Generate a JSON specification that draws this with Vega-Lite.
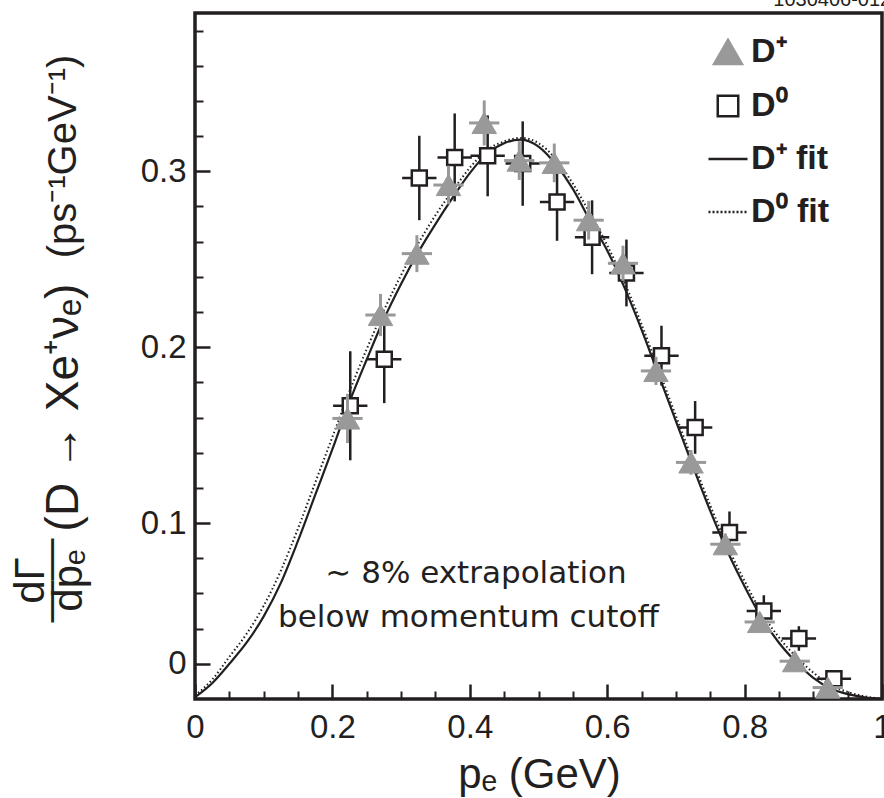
{
  "$schema": "https://vega.github.io/schema/vega-lite/v6.json",
  "width": 687,
  "height": 686,
  "autosize": {"type": "none"},
  "padding": {"left": 195, "top": 13, "right": 2, "bottom": 99},
  "background": "white",
  "title": {"text": "1030406-012", "anchor": "end", "fontSize": 20, "fontWeight": "normal", "font": "Liberation Sans", "color": "#231f20", "offset": 3, "dx": 0},
  "config": {
    "font": "Liberation Sans",
    "view": {"stroke": "#231f20", "strokeWidth": 3.5},
    "axis": {"grid": false, "domain": false, "labelColor": "#231f20", "titleColor": "#231f20", "tickColor": "#231f20", "titleFontWeight": "normal", "labelFont": "Liberation Sans", "titleFont": "Liberation Sans"}
  },
  "datasets": {
    "d0": [
      {"s": "D⁰", "p": 0.226, "r": 0.1667, "pl": 0.201, "ph": 0.251, "rl": 0.1357, "rh": 0.1977},
      {"s": "D⁰", "p": 0.2755, "r": 0.1932, "pl": 0.2505, "ph": 0.3005, "rl": 0.1682, "rh": 0.2182},
      {"s": "D⁰", "p": 0.3265, "r": 0.2962, "pl": 0.3015, "ph": 0.3515, "rl": 0.2722, "rh": 0.3202},
      {"s": "D⁰", "p": 0.378, "r": 0.3079, "pl": 0.353, "ph": 0.403, "rl": 0.2829, "rh": 0.3329},
      {"s": "D⁰", "p": 0.426, "r": 0.3088, "pl": 0.401, "ph": 0.451, "rl": 0.2858, "rh": 0.3318},
      {"s": "D⁰", "p": 0.477, "r": 0.3044, "pl": 0.452, "ph": 0.502, "rl": 0.2804, "rh": 0.3284},
      {"s": "D⁰", "p": 0.527, "r": 0.2825, "pl": 0.502, "ph": 0.552, "rl": 0.2605, "rh": 0.3045},
      {"s": "D⁰", "p": 0.578, "r": 0.2625, "pl": 0.553, "ph": 0.603, "rl": 0.2415, "rh": 0.2835},
      {"s": "D⁰", "p": 0.628, "r": 0.2422, "pl": 0.603, "ph": 0.653, "rl": 0.2232, "rh": 0.2612},
      {"s": "D⁰", "p": 0.679, "r": 0.1952, "pl": 0.654, "ph": 0.704, "rl": 0.1782, "rh": 0.2122},
      {"s": "D⁰", "p": 0.728, "r": 0.1544, "pl": 0.703, "ph": 0.753, "rl": 0.1394, "rh": 0.1694},
      {"s": "D⁰", "p": 0.778, "r": 0.0946, "pl": 0.753, "ph": 0.803, "rl": 0.0826, "rh": 0.1066},
      {"s": "D⁰", "p": 0.828, "r": 0.05, "pl": 0.803, "ph": 0.853, "rl": 0.041, "rh": 0.059},
      {"s": "D⁰", "p": 0.879, "r": 0.0344, "pl": 0.854, "ph": 0.904, "rl": 0.0274, "rh": 0.0414},
      {"s": "D⁰", "p": 0.93, "r": 0.0115, "pl": 0.905, "ph": 0.955, "rl": 0.0075, "rh": 0.0155}
    ],
    "dp": [
      {"s": "D⁺", "p": 0.222, "r": 0.1595, "pl": 0.2, "ph": 0.244, "rl": 0.1455, "rh": 0.1735},
      {"s": "D⁺", "p": 0.27, "r": 0.2183, "pl": 0.248, "ph": 0.292, "rl": 0.2063, "rh": 0.2303},
      {"s": "D⁺", "p": 0.323, "r": 0.2532, "pl": 0.301, "ph": 0.345, "rl": 0.2427, "rh": 0.2637},
      {"s": "D⁺", "p": 0.369, "r": 0.2922, "pl": 0.347, "ph": 0.391, "rl": 0.2812, "rh": 0.3032},
      {"s": "D⁺", "p": 0.421, "r": 0.3275, "pl": 0.399, "ph": 0.443, "rl": 0.3147, "rh": 0.3403},
      {"s": "D⁺", "p": 0.472, "r": 0.3061, "pl": 0.45, "ph": 0.494, "rl": 0.2951, "rh": 0.3171},
      {"s": "D⁺", "p": 0.523, "r": 0.3048, "pl": 0.501, "ph": 0.545, "rl": 0.2938, "rh": 0.3158},
      {"s": "D⁺", "p": 0.573, "r": 0.2722, "pl": 0.551, "ph": 0.595, "rl": 0.2612, "rh": 0.2832},
      {"s": "D⁺", "p": 0.623, "r": 0.2477, "pl": 0.601, "ph": 0.645, "rl": 0.2377, "rh": 0.2577},
      {"s": "D⁺", "p": 0.671, "r": 0.1865, "pl": 0.649, "ph": 0.693, "rl": 0.1785, "rh": 0.1945},
      {"s": "D⁺", "p": 0.722, "r": 0.1345, "pl": 0.7, "ph": 0.744, "rl": 0.1275, "rh": 0.1415},
      {"s": "D⁺", "p": 0.772, "r": 0.088, "pl": 0.75, "ph": 0.794, "rl": 0.082, "rh": 0.094},
      {"s": "D⁺", "p": 0.822, "r": 0.0438, "pl": 0.8, "ph": 0.844, "rl": 0.0388, "rh": 0.0488},
      {"s": "D⁺", "p": 0.873, "r": 0.0215, "pl": 0.851, "ph": 0.895, "rl": 0.0175, "rh": 0.0255},
      {"s": "D⁺", "p": 0.921, "r": 0.0065, "pl": 0.899, "ph": 0.943, "rl": 0.0035, "rh": 0.0095}
    ],
    "fitp": [
      {"p": 0.0, "r": 0.001}, {"p": 0.025, "r": 0.009}, {"p": 0.05, "r": 0.02}, {"p": 0.075, "r": 0.032},
      {"p": 0.1, "r": 0.047}, {"p": 0.125, "r": 0.066}, {"p": 0.15, "r": 0.09}, {"p": 0.175, "r": 0.116},
      {"p": 0.2, "r": 0.142}, {"p": 0.225, "r": 0.169}, {"p": 0.25, "r": 0.193}, {"p": 0.275, "r": 0.216},
      {"p": 0.3, "r": 0.236}, {"p": 0.325, "r": 0.254}, {"p": 0.35, "r": 0.27}, {"p": 0.375, "r": 0.285},
      {"p": 0.4, "r": 0.299}, {"p": 0.425, "r": 0.31}, {"p": 0.45, "r": 0.316}, {"p": 0.475, "r": 0.318},
      {"p": 0.5, "r": 0.314}, {"p": 0.525, "r": 0.304}, {"p": 0.55, "r": 0.29}, {"p": 0.575, "r": 0.272},
      {"p": 0.6, "r": 0.255}, {"p": 0.625, "r": 0.234}, {"p": 0.65, "r": 0.21}, {"p": 0.675, "r": 0.184},
      {"p": 0.7, "r": 0.158}, {"p": 0.725, "r": 0.132}, {"p": 0.75, "r": 0.107}, {"p": 0.775, "r": 0.084},
      {"p": 0.8, "r": 0.064}, {"p": 0.825, "r": 0.046}, {"p": 0.85, "r": 0.032}, {"p": 0.875, "r": 0.021},
      {"p": 0.9, "r": 0.012}, {"p": 0.925, "r": 0.006}, {"p": 0.95, "r": 0.0028}, {"p": 0.975, "r": 0.001},
      {"p": 1.0, "r": 0.0}
    ],
    "fit0": [
      {"p": 0.0, "r": 0.002}, {"p": 0.025, "r": 0.011}, {"p": 0.05, "r": 0.024}, {"p": 0.075, "r": 0.037},
      {"p": 0.1, "r": 0.053}, {"p": 0.125, "r": 0.073}, {"p": 0.15, "r": 0.097}, {"p": 0.175, "r": 0.123},
      {"p": 0.2, "r": 0.149}, {"p": 0.225, "r": 0.175}, {"p": 0.25, "r": 0.199}, {"p": 0.275, "r": 0.221},
      {"p": 0.3, "r": 0.241}, {"p": 0.325, "r": 0.259}, {"p": 0.35, "r": 0.275}, {"p": 0.375, "r": 0.289},
      {"p": 0.4, "r": 0.302}, {"p": 0.425, "r": 0.312}, {"p": 0.45, "r": 0.317}, {"p": 0.475, "r": 0.319},
      {"p": 0.5, "r": 0.316}, {"p": 0.525, "r": 0.307}, {"p": 0.55, "r": 0.293}, {"p": 0.575, "r": 0.276},
      {"p": 0.6, "r": 0.258}, {"p": 0.625, "r": 0.237}, {"p": 0.65, "r": 0.213}, {"p": 0.675, "r": 0.187},
      {"p": 0.7, "r": 0.161}, {"p": 0.725, "r": 0.135}, {"p": 0.75, "r": 0.11}, {"p": 0.775, "r": 0.087},
      {"p": 0.8, "r": 0.067}, {"p": 0.825, "r": 0.049}, {"p": 0.85, "r": 0.035}, {"p": 0.875, "r": 0.024},
      {"p": 0.9, "r": 0.015}, {"p": 0.925, "r": 0.008}, {"p": 0.95, "r": 0.004}, {"p": 0.975, "r": 0.0015},
      {"p": 1.0, "r": 0.0}
    ],
    "note": [
      {"tx": 0.409, "ty": 0.0659, "t": "∼ 8% extrapolation"},
      {"tx": 0.398, "ty": 0.0409, "t": "below momentum cutoff"}
    ]
  },
  "resolve": {"axis": {"x": "independent", "y": "independent"}},
  "layer": [
    {
      "data": {"name": "fitp"},
      "mark": {"type": "line", "color": "#231f20", "strokeWidth": 2.2, "interpolate": "monotone"},
      "encoding": {
        "x": {"field": "p", "type": "quantitative", "scale": {"domain": [0, 1], "nice": false, "zero": false},
          "axis": {"orient": "bottom", "values": [0, 0.2, 0.4, 0.6, 0.8, 1], "tickSize": -15, "tickWidth": 2.5,
            "labelExpr": "datum.value == 0 ? '0' : datum.value == 1 ? '1' : format(datum.value, '.1f')",
            "labelFontSize": 33, "labelPadding": 27, "labelFlush": false, "labelOverlap": false, "labelBound": false,
            "title": "pₑ (GeV)", "titleFontSize": 42, "titleX": 344, "titleY": 88, "titleAlign": "center", "titleBaseline": "alphabetic", "titleAnchor": "middle"}},
        "y": {"field": "r", "type": "quantitative", "scale": {"domain": [0, 0.39], "nice": false, "zero": false},
          "axis": {"orient": "left", "values": [0.02, 0.1, 0.2, 0.3], "tickSize": -15, "tickWidth": 2.5,
            "labelExpr": "datum.value < 0.05 ? '0' : format(datum.value, '.1f')",
            "labelFontSize": 33, "labelPadding": 24, "labelFlush": false, "labelOverlap": false,
            "title": "(D → Xe⁺νₑ)", "titleFontSize": 46, "titleX": -132, "titleY": 394, "titleAngle": 270, "titleAlign": "center", "titleBaseline": "middle"}}
      }
    },
    {
      "data": {"name": "fit0"},
      "mark": {"type": "line", "color": "#231f20", "strokeWidth": 2, "strokeDash": [1.5, 2.5], "interpolate": "monotone"},
      "encoding": {
        "x": {"field": "p", "type": "quantitative",
          "axis": {"orient": "bottom", "values": [0.05, 0.1, 0.15, 0.25, 0.3, 0.35, 0.45, 0.5, 0.55, 0.65, 0.7, 0.75, 0.85, 0.9, 0.95], "tickSize": -8, "tickWidth": 2, "labels": false, "title": null}},
        "y": {"field": "r", "type": "quantitative",
          "axis": {"orient": "left", "values": [0.04, 0.06, 0.08, 0.12, 0.14, 0.16, 0.18, 0.22, 0.24, 0.26, 0.28, 0.32, 0.34, 0.36, 0.38], "tickSize": -8, "tickWidth": 2, "labels": false,
            "title": "(ps⁻¹GeV⁻¹)", "titleFontSize": 40, "titleX": -132, "titleY": 143, "titleAngle": 270, "titleAlign": "center", "titleBaseline": "middle"}}
      }
    },
    {
      "data": {"name": "d0"},
      "mark": {"type": "rule", "color": "#231f20", "strokeWidth": 2.5},
      "encoding": {
        "x": {"field": "pl", "type": "quantitative", "axis": null},
        "x2": {"field": "ph"},
        "y": {"field": "r", "type": "quantitative",
          "axis": {"orient": "left", "ticks": false, "labels": false, "domain": false,
            "title": ["dΓ", "――", "dpₑ"], "titleFontSize": 42, "titleLineHeight": 19, "titleX": -152, "titleY": 567, "titleAngle": 270, "titleAlign": "center", "titleBaseline": "alphabetic"}}
      }
    },
    {
      "data": {"name": "d0"},
      "mark": {"type": "rule", "color": "#231f20", "strokeWidth": 2.5},
      "encoding": {
        "x": {"field": "p", "type": "quantitative", "axis": null},
        "y": {"field": "rl", "type": "quantitative", "axis": null},
        "y2": {"field": "rh"}
      }
    },
    {
      "data": {"name": "d0"},
      "mark": {"type": "point", "size": 225, "strokeWidth": 2.5, "opacity": 1},
      "encoding": {
        "x": {"field": "p", "type": "quantitative", "axis": null},
        "y": {"field": "r", "type": "quantitative", "axis": null},
        "shape": {"field": "s", "type": "nominal",
          "scale": {"domain": ["D⁺", "D⁰", "D⁺ fit", "D⁰ fit"], "range": ["triangle-up", "square", "stroke", "stroke"]},
          "legend": {"orient": "none", "legendX": 512, "legendY": 18, "title": null, "padding": 0,
            "labelFontSize": 34, "labelFontWeight": "bold", "labelFont": "Liberation Sans", "labelColor": "#231f20",
            "symbolSize": 1521, "symbolStrokeWidth": 2.5, "symbolOpacity": 1, "rowPadding": 15, "labelOffset": 2,
            "encode": {"symbols": {"update": {
              "size": {"signal": "datum.value === 'D⁺' ? 784 : datum.value === 'D⁰' ? 420 : 1521"},
              "strokeDash": {"signal": "datum.value === 'D⁰ fit' ? [2, 2] : [1, 0]"}}}}}},
        "fill": {"field": "s", "type": "nominal",
          "scale": {"domain": ["D⁺", "D⁰", "D⁺ fit", "D⁰ fit"], "range": ["#999999", "#ffffff", "#231f20", "#231f20"]},
          "legend": {"orient": "none", "legendX": 512, "legendY": 18, "title": null, "padding": 0,
            "labelFontSize": 34, "labelFontWeight": "bold", "labelFont": "Liberation Sans", "labelColor": "#231f20",
            "symbolSize": 1521, "symbolStrokeWidth": 2.5, "symbolOpacity": 1, "rowPadding": 15, "labelOffset": 2,
            "encode": {"symbols": {"update": {
              "size": {"signal": "datum.value === 'D⁺' ? 784 : datum.value === 'D⁰' ? 420 : 1521"},
              "strokeDash": {"signal": "datum.value === 'D⁰ fit' ? [2, 2] : [1, 0]"}}}}}},
        "stroke": {"field": "s", "type": "nominal",
          "scale": {"domain": ["D⁺", "D⁰", "D⁺ fit", "D⁰ fit"], "range": ["#999999", "#231f20", "#231f20", "#231f20"]},
          "legend": {"orient": "none", "legendX": 512, "legendY": 18, "title": null, "padding": 0,
            "labelFontSize": 34, "labelFontWeight": "bold", "labelFont": "Liberation Sans", "labelColor": "#231f20",
            "symbolSize": 1521, "symbolStrokeWidth": 2.5, "symbolOpacity": 1, "rowPadding": 15, "labelOffset": 2,
            "encode": {"symbols": {"update": {
              "size": {"signal": "datum.value === 'D⁺' ? 784 : datum.value === 'D⁰' ? 420 : 1521"},
              "strokeDash": {"signal": "datum.value === 'D⁰ fit' ? [2, 2] : [1, 0]"}}}}}}
      }
    },
    {
      "data": {"name": "dp"},
      "mark": {"type": "rule", "color": "#999999", "strokeWidth": 3},
      "encoding": {
        "x": {"field": "pl", "type": "quantitative", "axis": null},
        "x2": {"field": "ph"},
        "y": {"field": "r", "type": "quantitative", "axis": null}
      }
    },
    {
      "data": {"name": "dp"},
      "mark": {"type": "rule", "color": "#999999", "strokeWidth": 3},
      "encoding": {
        "x": {"field": "p", "type": "quantitative", "axis": null},
        "y": {"field": "rl", "type": "quantitative", "axis": null},
        "y2": {"field": "rh"}
      }
    },
    {
      "data": {"name": "dp"},
      "mark": {"type": "point", "size": 600, "strokeWidth": 1, "opacity": 1},
      "encoding": {
        "x": {"field": "p", "type": "quantitative", "axis": null},
        "y": {"field": "r", "type": "quantitative", "axis": null},
        "shape": {"field": "s", "type": "nominal"},
        "fill": {"field": "s", "type": "nominal"},
        "stroke": {"field": "s", "type": "nominal"}
      }
    },
    {
      "data": {"name": "note"},
      "mark": {"type": "text", "font": "DejaVu Sans", "fontSize": 31, "color": "#231f20", "align": "center", "baseline": "alphabetic"},
      "encoding": {
        "x": {"field": "tx", "type": "quantitative", "axis": null},
        "y": {"field": "ty", "type": "quantitative", "axis": null},
        "text": {"field": "t", "type": "nominal"}
      }
    }
  ]
}
